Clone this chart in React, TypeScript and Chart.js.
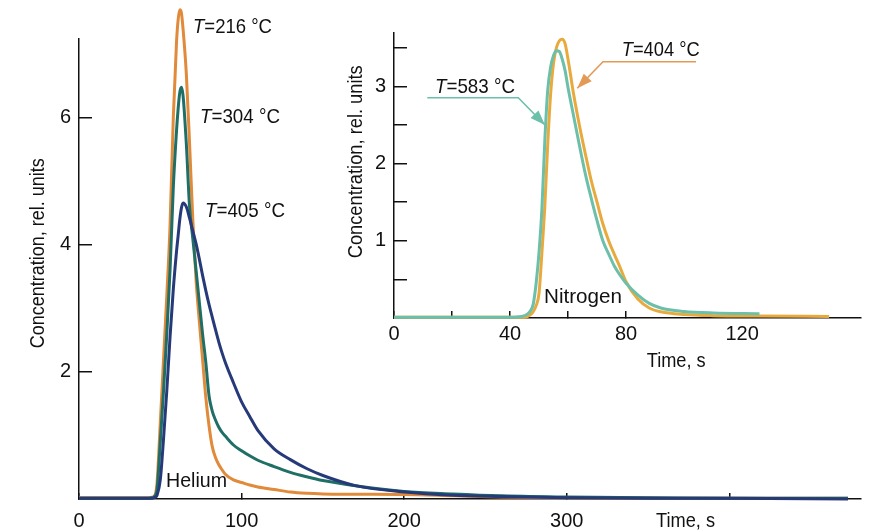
import React, { useEffect, useRef } from 'react';
import { Chart, registerables } from 'chart.js';

Chart.register(...registerables);

const FONT = "'Liberation Sans', Arial, sans-serif";
const AXIS = '#111111';

// ---------- Main chart: Helium ----------
const heliumTime = [0, 40, 45, 46, 47, 48, 50, 52, 54, 56, 58, 60, 61, 62, 63, 64, 66, 68, 70, 72, 74, 76, 78, 80, 82, 84, 86, 88, 90, 95, 100, 105, 110, 120, 130, 140, 150, 170, 200, 230, 260, 300, 350, 400, 473];
const helium216 = [0.02, 0.02, 0.03, 0.04, 0.08, 0.25, 1.2, 2.2, 3.2, 4.3, 6.0, 7.2, 7.55, 7.7, 7.65, 7.4, 6.7, 5.6, 4.4, 3.45, 2.8, 2.2, 1.6, 1.15, 0.82, 0.65, 0.54, 0.46, 0.39, 0.3, 0.26, 0.22, 0.19, 0.15, 0.11, 0.09, 0.08, 0.075, 0.07, 0.05, 0.03, 0.02, 0.015, 0.01, 0.01];
const helium304 = [0.01, 0.01, 0.02, 0.03, 0.06, 0.15, 0.9, 1.7, 2.6, 3.6, 4.9, 5.8, 6.15, 6.4, 6.48, 6.35, 5.6, 4.6, 4.1, 3.6, 3.1, 2.6, 2.15, 1.62, 1.38, 1.24, 1.13, 1.05, 0.99, 0.85, 0.76, 0.68, 0.61, 0.51, 0.42, 0.35, 0.29, 0.21, 0.12, 0.08, 0.05, 0.03, 0.02, 0.01, 0.01];
const helium405 = [0.01, 0.01, 0.01, 0.02, 0.03, 0.06, 0.3, 0.95, 1.7, 2.55, 3.3, 3.9, 4.15, 4.4, 4.58, 4.66, 4.6, 4.42, 4.22, 4.02, 3.78, 3.52, 3.28, 3.06, 2.86, 2.66, 2.47, 2.3, 2.15, 1.83, 1.53, 1.3, 1.08, 0.79, 0.62, 0.48, 0.37, 0.21, 0.11, 0.06, 0.04, 0.02, 0.01, 0.01, 0.0];

const mainXTicks = [0, 100, 200, 300, 400];
const mainXLabels = ['0', '100', '200', '300', ''];
const mainYTicks = [0, 2, 4, 6];
const mainYLabels = ['', '2', '4', '6'];

// ---------- Inset chart: Nitrogen ----------
const nitrogenTime = [0, 40, 44, 46, 47, 48, 49, 50, 51, 52, 53, 54, 55, 56, 57, 58, 59, 60, 62, 64, 66, 68, 70, 72, 74, 76, 78, 80, 84, 88, 92, 100, 110, 126, 150];
const nitrogen583 = [0.01, 0.01, 0.02, 0.05, 0.09, 0.18, 0.45, 0.85, 1.42, 2.3, 2.95, 3.25, 3.4, 3.46, 3.45, 3.35, 3.2, 2.98, 2.6, 2.22, 1.86, 1.55, 1.26, 1.0, 0.83, 0.67, 0.55, 0.45, 0.3, 0.19, 0.13, 0.085, 0.065, 0.055, null];
const nitrogen404 = [0.01, 0.01, 0.01, 0.02, 0.04, 0.08, 0.16, 0.32, 0.85, 1.45, 2.25, 2.9, 3.3, 3.5, 3.59, 3.61, 3.55, 3.35, 2.88, 2.48, 2.12, 1.78, 1.5, 1.22, 1.0, 0.82, 0.65, 0.47, 0.25, 0.13, 0.08, 0.045, 0.03, 0.025, 0.02];

const insetXTicks = [0, 20, 40, 60, 80, 120];
const insetXLabels = ['0', '', '40', '', '80', '120'];
const insetYTicks = [0, 0.5, 1, 1.5, 2, 2.5, 3, 3.5];
const insetYLabels = ['', '', '1', '', '2', '', '3', ''];

const C216 = '#e08a3a';
const C304 = '#1f6f67';
const C405 = '#263a7a';
const C583 = '#6cbfa9';
const C404 = '#e9aa3d';
const C583_LEAD = '#6cbfa9';
const C404_LEAD = '#e39a55';

const TEXT_SIZE = 21;

const toXY = (xs: number[], ys: (number | null)[]) => xs.map((x, i) => ({ x, y: ys[i] }));

// Draws "italic + rest" text starting at (x, y) baseline, fitted horizontally to width w.
function drawFitted(ctx: CanvasRenderingContext2D, italicPart: string, rest: string, x: number, y: number, w: number, rotate = false) {
  ctx.save();
  const italicFont = `italic ${TEXT_SIZE}px ${FONT}`;
  const normalFont = `${TEXT_SIZE}px ${FONT}`;
  ctx.font = italicFont;
  const wi = italicPart ? ctx.measureText(italicPart).width : 0;
  ctx.font = normalFont;
  const wr = ctx.measureText(rest).width;
  const s = w / (wi + wr);
  ctx.translate(x, y);
  if (rotate) ctx.rotate(-Math.PI / 2);
  ctx.scale(s, 1);
  ctx.fillStyle = AXIS;
  ctx.textBaseline = 'alphabetic';
  ctx.textAlign = 'left';
  if (italicPart) {
    ctx.font = italicFont;
    ctx.fillText(italicPart, 0, 0);
  }
  ctx.font = normalFont;
  ctx.fillText(rest, wi, 0);
  ctx.restore();
}

function drawLeader(ctx: CanvasRenderingContext2D, pts: number[][], color: string) {
  ctx.save();
  ctx.strokeStyle = color;
  ctx.fillStyle = color;
  ctx.lineWidth = 1.6;
  ctx.beginPath();
  ctx.moveTo(pts[0][0], pts[0][1]);
  for (let i = 1; i < pts.length; i++) ctx.lineTo(pts[i][0], pts[i][1]);
  ctx.stroke();
  const [x1, y1] = pts[pts.length - 2];
  const [x2, y2] = pts[pts.length - 1];
  const ang = Math.atan2(y2 - y1, x2 - x1);
  const len = 15;
  const hw = 5.5;
  const bx = x2 - len * Math.cos(ang);
  const by = y2 - len * Math.sin(ang);
  ctx.beginPath();
  ctx.moveTo(x2, y2);
  ctx.lineTo(bx + hw * Math.sin(ang), by - hw * Math.cos(ang));
  ctx.lineTo(bx - hw * Math.sin(ang), by + hw * Math.cos(ang));
  ctx.closePath();
  ctx.fill();
  ctx.restore();
}

const lineDs = (label: string, data: any[], color: string, order: number) => ({
  label,
  data,
  borderColor: color,
  backgroundColor: color,
  borderWidth: 3,
  pointRadius: 0,
  fill: false,
  cubicInterpolationMode: 'monotone' as const,
  clip: false as any,
  order,
});

const tickFont = { family: FONT, size: 20 };

export default function App() {
  const mainRef = useRef<HTMLCanvasElement>(null);
  const insetRef = useRef<HTMLCanvasElement>(null);

  useEffect(() => {
    const mainPlugin = {
      id: 'mainText',
      afterDraw(chart: any) {
        const ctx = chart.ctx as CanvasRenderingContext2D;
        drawFitted(ctx, 'T', '=216 °C', 193, 33.3, 79);
        drawFitted(ctx, 'T', '=304 °C', 200, 122.7, 80);
        drawFitted(ctx, 'T', '=405 °C', 205, 217.3, 80);
        drawFitted(ctx, '', 'Helium', 166, 487.3, 61);
        drawFitted(ctx, '', 'Time, s', 656, 526.7, 59);
        drawFitted(ctx, '', 'Concentration, rel. units', 43.5, 348.3, 190, true);
      },
    };

    const main = new Chart(mainRef.current!, {
      type: 'line',
      data: {
        datasets: [
          lineDs('T = 405 °C', toXY(heliumTime, helium405), C405, 1),
          lineDs('T = 304 °C', toXY(heliumTime, helium304), C304, 2),
          lineDs('T = 216 °C', toXY(heliumTime, helium216), C216, 3),
        ],
      },
      options: {
        responsive: false,
        animation: false,
        devicePixelRatio: 1,
        layout: { padding: { left: 0, right: 13, top: 39, bottom: 0 } },
        plugins: { legend: { display: false }, tooltip: { enabled: false } },
        scales: {
          x: {
            type: 'linear',
            min: 0,
            max: 481,
            afterBuildTicks: (s: any) => { s.ticks = mainXTicks.map((v) => ({ value: v })); },
            afterFit: (s: any) => { s.height = 31; },
            border: { display: true, color: AXIS, width: 1.5 },
            grid: { display: true, drawOnChartArea: false, drawTicks: true, tickLength: -6, color: AXIS, lineWidth: 1.5 },
            ticks: { padding: 16, color: AXIS, font: tickFont, maxRotation: 0, autoSkip: false, callback: (_v: any, i: number) => mainXLabels[i] },
          },
          y: {
            type: 'linear',
            min: 0,
            max: 7.24,
            afterBuildTicks: (s: any) => { s.ticks = mainYTicks.map((v) => ({ value: v })); },
            afterFit: (s: any) => { s.width = 79; },
            border: { display: true, color: AXIS, width: 1.5 },
            grid: { display: true, drawOnChartArea: false, drawTicks: true, tickLength: -13, color: AXIS, lineWidth: 1.5 },
            ticks: { padding: 21, color: AXIS, font: tickFont, autoSkip: false, callback: (_v: any, i: number) => mainYLabels[i] },
          },
        },
      } as any,
      plugins: [mainPlugin],
    });

    const insetPlugin = {
      id: 'insetText',
      afterDraw(chart: any) {
        const ctx = chart.ctx as CanvasRenderingContext2D;
        drawLeader(ctx, [[427.3, 97.7], [518.3, 97.7], [545, 125]], C583_LEAD);
        drawLeader(ctx, [[696, 61.7], [603, 61.7], [577.3, 88.3]], C404_LEAD);
        drawFitted(ctx, 'T', '=583 °C', 435, 93.3, 80);
        drawFitted(ctx, 'T', '=404 °C', 621.7, 56, 78);
        drawFitted(ctx, '', 'Nitrogen', 544, 303, 78);
        drawFitted(ctx, '', 'Time, s', 646.7, 367, 59);
        drawFitted(ctx, '', 'Concentration, rel. units', 361.7, 258.3, 193, true);
      },
    };

    const inset = new Chart(insetRef.current!, {
      type: 'line',
      data: {
        datasets: [
          lineDs('T = 583 °C', toXY(nitrogenTime, nitrogen583), C583, 1),
          lineDs('T = 404 °C', toXY(nitrogenTime, nitrogen404), C404, 2),
        ],
      },
      options: {
        responsive: false,
        animation: false,
        devicePixelRatio: 1,
        layout: { padding: { left: 0, right: 13, top: 33, bottom: 184 } },
        plugins: { legend: { display: false }, tooltip: { enabled: false } },
        scales: {
          x: {
            type: 'linear',
            min: 0,
            max: 161,
            afterBuildTicks: (s: any) => { s.ticks = insetXTicks.map((v) => ({ value: v })); },
            afterFit: (s: any) => { s.height = 30; },
            border: { display: true, color: AXIS, width: 1.5 },
            grid: {
              display: true, drawOnChartArea: false, drawTicks: true, tickLength: -7, lineWidth: 1.5,
              color: (c: any) => (c.tick && c.tick.value > 80 ? 'rgba(0,0,0,0)' : AXIS),
            },
            ticks: { padding: 11, color: AXIS, font: tickFont, maxRotation: 0, autoSkip: false, callback: (_v: any, i: number) => insetXLabels[i] },
          },
          y: {
            type: 'linear',
            min: 0,
            max: 3.69,
            afterBuildTicks: (s: any) => { s.ticks = insetYTicks.map((v) => ({ value: v })); },
            afterFit: (s: any) => { s.width = 394; },
            border: { display: true, color: AXIS, width: 1.5 },
            grid: { display: true, drawOnChartArea: false, drawTicks: true, tickLength: -13, color: AXIS, lineWidth: 1.5 },
            ticks: { padding: 21, color: AXIS, font: tickFont, autoSkip: false, callback: (_v: any, i: number) => insetYLabels[i] },
          },
        },
      } as any,
      plugins: [insetPlugin],
    });

    return () => {
      main.destroy();
      inset.destroy();
    };
  }, []);

  return (
    <div style={{ position: 'fixed', left: 0, top: 0, width: 874, height: 532, background: '#ffffff' }}>
      <canvas ref={mainRef} width={874} height={532} style={{ position: 'absolute', left: 0, top: 0 }} />
      <canvas ref={insetRef} width={874} height={532} style={{ position: 'absolute', left: 0, top: 0 }} />
    </div>
  );
}
